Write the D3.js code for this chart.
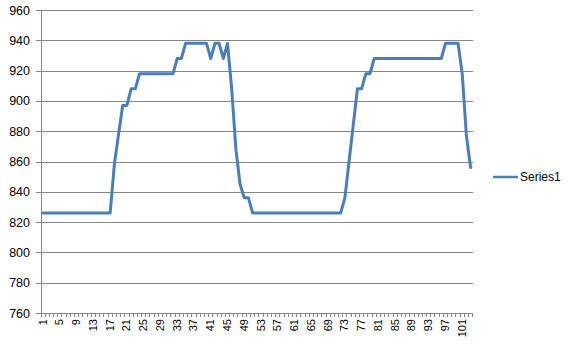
<!DOCTYPE html>
<html>
<head>
<meta charset="utf-8">
<script src="https://cdn.jsdelivr.net/npm/d3@7/dist/d3.min.js"></script>
<style>
  html, body { margin: 0; padding: 0; background: #ffffff; }
  svg { display: block; }
  text { font-family: "Liberation Sans", Arial, sans-serif; fill: #000; }
</style>
</head>
<body>
<svg id="chart" width="569" height="352"></svg>
<script>
// ---- data ----
const categories = [1,2,3,4,5,6,7,8,9,10,11,12,13,14,15,16,17,18,19,20,21,22,23,24,25,26,27,28,29,30,
  31,32,33,34,35,36,37,38,39,40,41,42,43,44,45,46,47,48,49,50,51,52,53,54,55,56,57,58,59,60,
  61,62,63,64,65,66,67,68,69,70,71,72,73,74,75,76,77,78,79,80,81,82,83,84,85,86,87,88,89,90,
  91,92,93,94,95,96,97,98,99,100,101,102,103];
const series1 = [
  826,826,826,826,826,826,826,826,826,826,826,826,826,826,826,826,826,   // 1-17
  858,878,897,897,908,908,                                               // 18-23
  918,918,918,918,918,918,918,918,918,                                   // 24-32
  928,928,938,938,938,938,938,938,                                       // 33-40
  928,938,938,928,938,                                                   // 41-45
  908,868,845,836,836,                                                   // 46-50
  826,826,826,826,826,826,826,826,826,826,826,826,826,826,826,826,826,826,826,826,826,826, // 51-72
  836,860,884,908,908,918,918,                                           // 73-79
  928,928,928,928,928,928,928,928,928,928,928,928,928,928,928,928,928,   // 80-96
  938,938,938,938,                                                       // 97-100
  918,877,856                                                            // 101-103
];
const seriesName = "Series1";
const xTickLabels = ["1","5","9","13","17","21","25","29","33","37","41","45","49","53","57",
  "61","65","69","73","77","81","85","89","93","97","101"];
const yTicks = [760,780,800,820,840,860,880,900,920,940,960];

(function () {
  // ---- layout ----
  const svg = d3.select("#chart");
  const plotLeft = 41, plotRight = 472.7, plotTop = 10, plotBottom = 313;
  const gridColor = "#868686";
  const lineColor = "#4A7EBB";

  const x = d3.scaleBand().domain(categories).range([plotLeft, plotRight]).padding(0);
  const y = d3.scaleLinear().domain([760, 960]).range([plotBottom, plotTop]);
  const cx = c => x(c) + x.bandwidth() / 2;

  // gridlines
  const grid = svg.append("g").attr("transform", `translate(${plotLeft},0)`)
    .call(d3.axisLeft(y).tickValues(yTicks.filter(v => v !== 760)).tickSize(-(plotRight - plotLeft)).tickFormat(""));
  grid.select(".domain").remove();
  grid.selectAll("line").attr("stroke", gridColor).attr("stroke-width", 1).attr("shape-rendering", "crispEdges");

  // y axis
  const yAxis = svg.append("g").attr("transform", `translate(${plotLeft},0)`)
    .call(d3.axisLeft(y).tickValues(yTicks).tickSize(5).tickPadding(6).tickSizeOuter(0));
  yAxis.select(".domain").attr("stroke", gridColor).attr("shape-rendering", "crispEdges");
  yAxis.selectAll("line").attr("stroke", gridColor).attr("shape-rendering", "crispEdges");
  yAxis.selectAll("text").style("font-size", "12.5px").style("font-family", "Liberation Sans, Arial, sans-serif").attr("fill", "#000");

  // x axis line
  svg.append("line")
    .attr("x1", plotLeft).attr("x2", plotRight).attr("y1", plotBottom).attr("y2", plotBottom)
    .attr("stroke", gridColor).attr("shape-rendering", "crispEdges");
  // x minor ticks at category boundaries
  const boundaries = categories.map(c => x(c)).concat([x(categories[categories.length - 1]) + x.bandwidth()]);
  svg.append("g").selectAll("line").data(boundaries).join("line")
    .attr("x1", d => d).attr("x2", d => d)
    .attr("y1", plotBottom).attr("y2", plotBottom + 4)
    .attr("stroke", gridColor).attr("shape-rendering", "crispEdges");

  // x labels (rotated)
  svg.append("g").selectAll("text").data(xTickLabels).join("text")
    .attr("transform", d => `translate(${cx(+d) + 3.5},${plotBottom + 6}) rotate(-90)`)
    .attr("text-anchor", "end")
    .style("font-size", "11px")
    .text(d => d);

  // series line
  const line = d3.line().x((d, i) => cx(categories[i])).y(d => y(d));
  svg.append("path")
    .datum(series1)
    .attr("d", line)
    .attr("fill", "none")
    .attr("stroke", lineColor)
    .attr("stroke-width", 3)
    .attr("stroke-linejoin", "round")
    .attr("stroke-linecap", "round");

  // legend
  svg.append("line")
    .attr("x1", 493).attr("x2", 518).attr("y1", 177).attr("y2", 177)
    .attr("stroke", lineColor).attr("stroke-width", 2.5);
  svg.append("text")
    .attr("x", 520).attr("y", 181)
    .style("font-size", "12px")
    .text(seriesName);
})();
</script>
</body>
</html>
